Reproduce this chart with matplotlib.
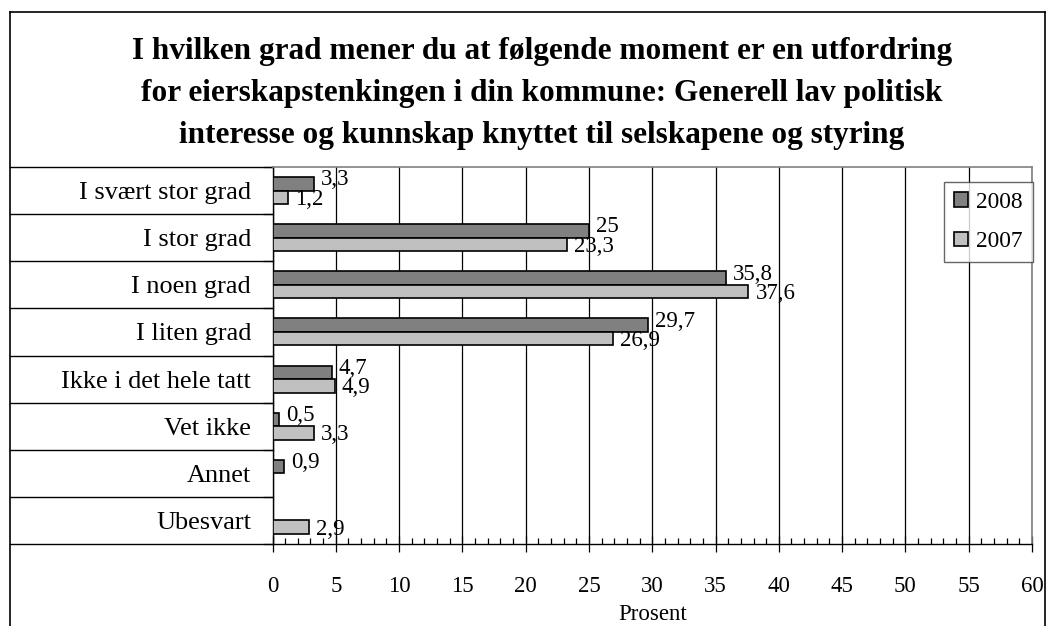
import matplotlib

matplotlib.use("Agg")

import matplotlib.pyplot as plt
from matplotlib.lines import Line2D
from matplotlib.patches import Patch
from matplotlib.ticker import MultipleLocator
from matplotlib.transforms import blended_transform_factory

plt.rcParams["font.family"] = ["Liberation Serif", "DejaVu Serif"]

title_lines = [
    "I hvilken grad mener du at følgende moment er en utfordring",
    "for eierskapstenkingen i din kommune: Generell lav politisk",
    "interesse og kunnskap knyttet til selskapene og styring",
]
categories = [
    "I svært stor grad",
    "I stor grad",
    "I noen grad",
    "I liten grad",
    "Ikke i det hele tatt",
    "Vet ikke",
    "Annet",
    "Ubesvart",
]
values_2008 = [3.3, 25, 35.8, 29.7, 4.7, 0.5, 0.9, None]
values_2007 = [1.2, 23.3, 37.6, 26.9, 4.9, 3.3, None, 2.9]
series_labels = ["2008", "2007"]
series_colors = ["#808080", "#c0c0c0"]
x_label = "Prosent"

W, H = 1048, 626


def fx(px):
    return px / W


def fy(py):
    return 1 - py / H


def fmt(v):
    return f"{v:g}".replace(".", ",")


fig = plt.figure(figsize=(W / 100, H / 100), dpi=100)
ax = fig.add_axes([fx(272.5), fy(544), fx(1032) - fx(272.5), fy(167) - fy(544)])

bar_h = 0.287
ys = list(range(len(categories)))
for vals, color, offset, dy in zip(
    [values_2008, values_2007], series_colors, [-bar_h / 2, bar_h / 2], [4, -2]
):
    for y, v in zip(ys, vals):
        if v is None:
            continue
        ax.barh(y + offset, v, height=bar_h, color=color, edgecolor="black", linewidth=1.2, zorder=3)
        ax.annotate(
            fmt(v), (v, y + offset), xytext=(7, dy), textcoords="offset pixels",
            ha="left", va="center", fontsize=16.5, zorder=4,
        )

ax.set_xlim(0, 60)
ax.set_ylim(len(categories) - 0.5, -0.5)
ax.xaxis.set_major_locator(MultipleLocator(5))
ax.xaxis.set_minor_locator(MultipleLocator(1))
ax.grid(axis="x", which="major", color="black", linewidth=0.9, zorder=0)
ax.tick_params(axis="x", which="major", direction="inout", length=11.5, width=0.9,
               labelsize=16.5, pad=17)
ax.tick_params(axis="x", which="minor", direction="in", length=4.5, width=0.9)
ax.set_xlabel(x_label, fontsize=16.5, labelpad=5)

ax.set_yticks(ys)
ax.set_yticklabels(categories, fontsize=18.9)
ax.set_yticks([y - 0.5 for y in ys] + [len(ys) - 0.5], minor=True)
ax.tick_params(axis="y", which="major", length=0, pad=15.5)
ax.tick_params(axis="y", which="minor", direction="out", length=7, width=0.9)

for side in ["top", "right"]:
    ax.spines[side].set_color("#808080")
    ax.spines[side].set_linewidth(1.2)
for side in ["left", "bottom"]:
    ax.spines[side].set_color("black")
    ax.spines[side].set_linewidth(1.0)

# category label box
trans = blended_transform_factory(fig.transFigure, ax.transData)
for b in [y - 0.5 for y in ys] + [len(ys) - 0.5]:
    ax.add_line(Line2D([fx(10), fx(272.5)], [b, b], transform=trans, color="black",
                       linewidth=1.0, clip_on=False))

# outer chart frame
fig.add_artist(Line2D([fx(10), fx(10)], [fy(12), 0], color="black", linewidth=1.2))
fig.add_artist(Line2D([fx(1045), fx(1045)], [fy(12), 0], color="black", linewidth=1.2))
fig.add_artist(Line2D([fx(10), fx(1045)], [fy(12), fy(12)], color="black", linewidth=1.2))

for line, py in zip(title_lines, [52, 94, 136]):
    fig.text(fx(542), fy(py), line, ha="center", va="center", fontsize=22.5, fontweight="bold")

handles = [Patch(facecolor=c, edgecolor="black", linewidth=1.2) for c in series_colors]
leg = fig.legend(
    handles, series_labels, loc="upper right", bbox_to_anchor=(fx(1032.7), fy(181.7)),
    fontsize=16.8, frameon=True, fancybox=False, borderpad=0.42, borderaxespad=0,
    handlelength=0.6, handleheight=0.6, handletextpad=0.35, labelspacing=0.8,
)
leg.get_frame().set_edgecolor("#404040")
leg.get_frame().set_linewidth(1.0)

fig.savefig("out.png", dpi=100)
